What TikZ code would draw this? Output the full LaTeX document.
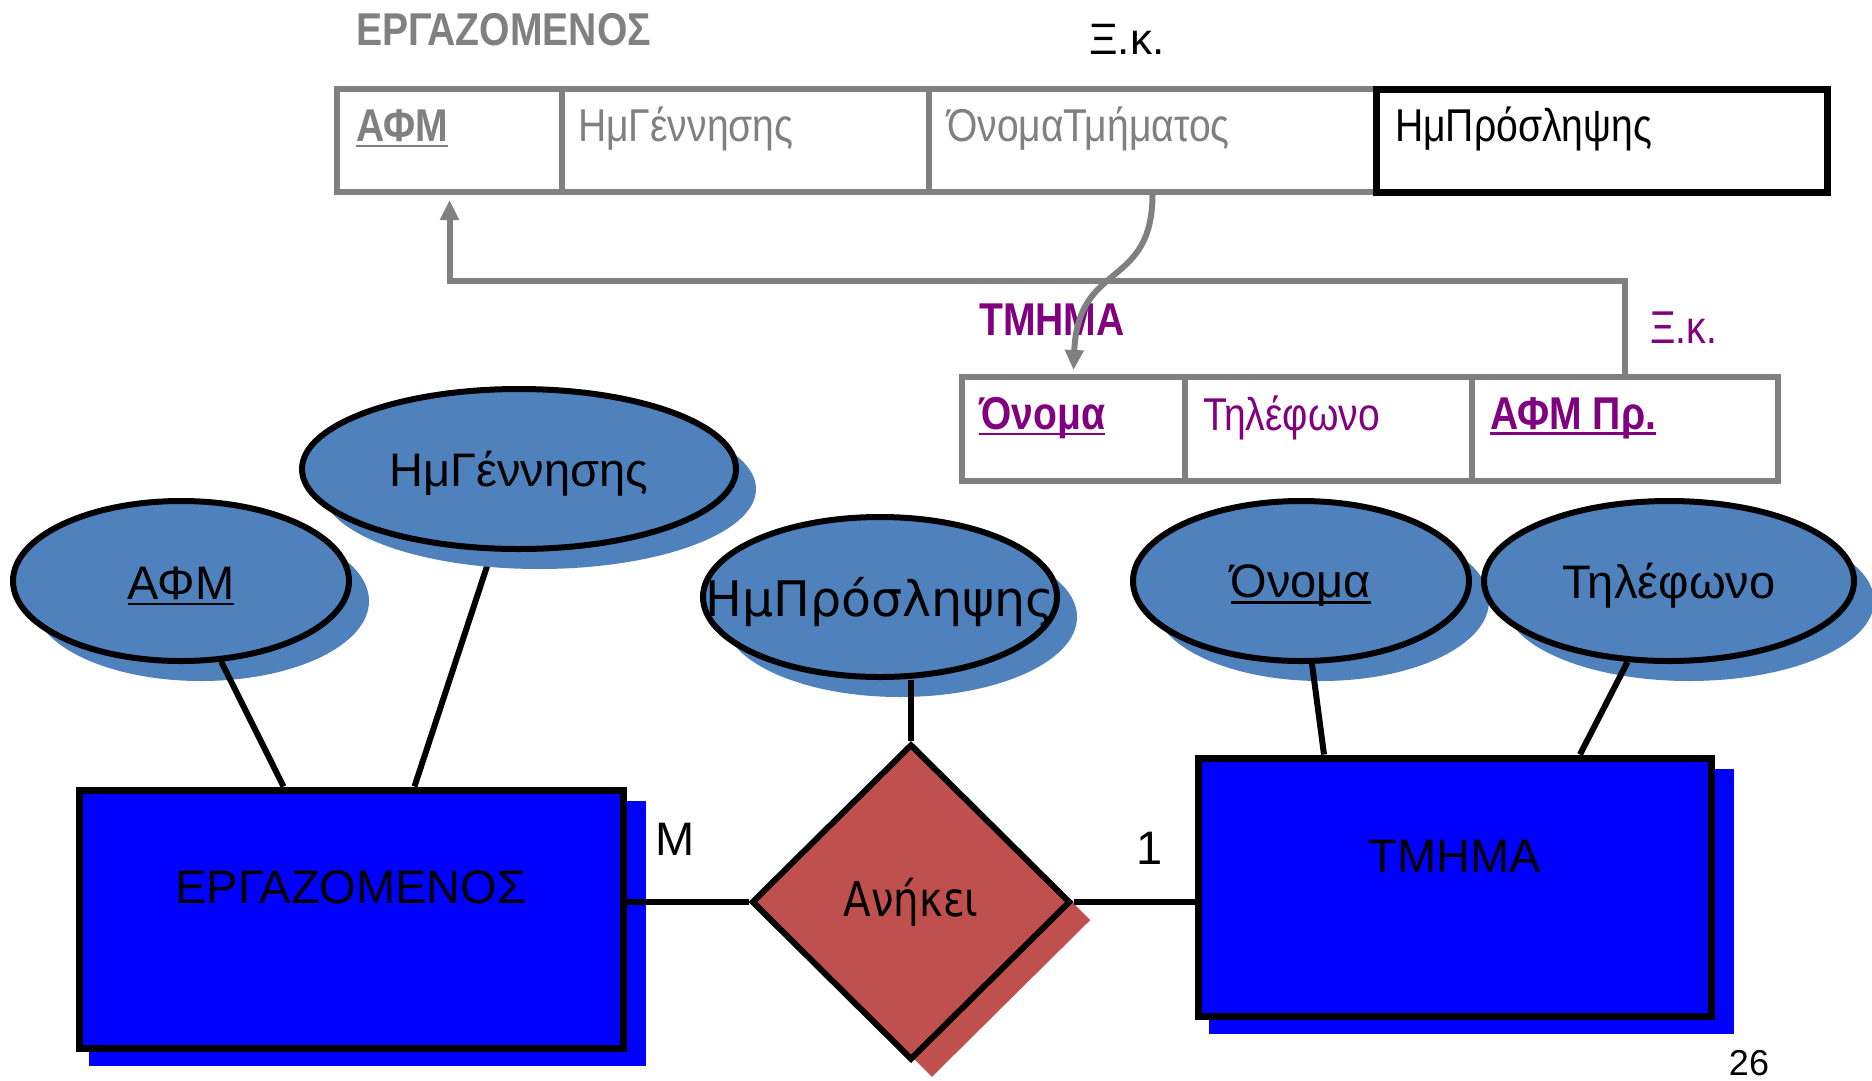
\documentclass[tikz,border=0pt]{standalone}
\usepackage{fontspec}
\setmainfont{Liberation Sans}
\newfontfamily\nar[FakeStretch=0.85]{Liberation Sans}
\newfontfamily\dv{DejaVu Sans}
\newfontfamily\dvn[FakeStretch=0.84]{DejaVu Sans}
\usetikzlibrary{shapes.geometric,shadows,arrows.meta,calc}
\definecolor{ellblue}{HTML}{4F81BD}
\definecolor{relred}{HTML}{C0504D}
\definecolor{fkpurple}{HTML}{800080}
\definecolor{tgray}{HTML}{808080}
\pgfdeclarelayer{paper}
\pgfdeclarelayer{bg}
\pgfsetlayers{paper,bg,main}
\newcommand\fs[1]{\fontsize{#1}{#1}\selectfont}
\newcommand\uln[1]{\setbox0=\hbox{#1}\rlap{\rule[-0.13em]{\wd0}{0.06em}}\box0}
\begin{document}
\begin{tikzpicture}[x=1pt,y=-1pt,
 attr/.style={ellipse, draw=black, line width=6pt, fill=ellblue, inner sep=0pt,
   drop shadow={shadow xshift=20pt, shadow yshift=-20pt, fill=ellblue, opacity=1}},
 ent/.style={rectangle, draw=black, line width=7pt, fill=blue, inner sep=0pt,
   drop shadow={shadow scale=1.025, shadow xshift=16pt, shadow yshift=-14pt, fill=blue, opacity=1}},
 rel/.style={diamond, draw=black, line width=6pt, fill=relred, inner sep=0pt,
   drop shadow={shadow xshift=21pt, shadow yshift=-18pt, fill=relred, opacity=1}},
 cell/.style={rectangle, draw=tgray, line width=6pt, fill=white, inner sep=0pt, anchor=north west},
 celltxt/.style={anchor=west, inner sep=0pt, font=\nar\fs{46}},
 conn/.style={line width=6pt, draw=black},
 fk/.style={draw=tgray, line width=6pt, -{Triangle[length=20pt,width=18pt]}},
 big/.style={font=\fs{47}, inner sep=0pt},
 etxt/.style={big, yshift=-5pt},
]
\begin{pgfonlayer}{paper}
\useasboundingbox[fill=white] (0,0) rectangle (1872,1080);
\end{pgfonlayer}

% ---- relational schema: EMPLOYEE
\node[font=\nar\bfseries\fs{46}, text=tgray, anchor=west, inner sep=0pt] (t0) at (356,30) {ΕΡΓΑΖΟΜΕΝΟΣ};
\node[font=\fs{44}, anchor=west, inner sep=0pt] (tfk) at (1089,39) {Ξ.κ.};
\node[cell, minimum width=225pt, minimum height=103pt,
  label={[celltxt, xshift=22pt, yshift=12pt, text=tgray, font=\nar\bfseries\fs{46}]west:\uln{ΑΦΜ}}] (t1) at (334,86) {};
\node[cell, minimum width=367pt, minimum height=103pt,
  label={[celltxt, xshift=19pt, yshift=12pt, text=tgray]west:ΗμΓέννησης}] (t2) at (559,86) {};
\node[cell, minimum width=447pt, minimum height=103pt,
  label={[celltxt, xshift=21pt, yshift=12pt, text=tgray]west:ΌνομαΤμήματος}] (t3) at (926,86) {};
\node[cell, draw=black, line width=7pt, minimum width=451pt, minimum height=103pt,
  label={[celltxt, xshift=22pt, yshift=12pt, text=black]west:ΗμΠρόσληψης}] (t4) at (1373,86) {};

% ---- relational schema: DEPARTMENT
\node[font=\nar\bfseries\fs{46}, text=fkpurple, anchor=west, inner sep=0pt] (b0) at (979,320) {ΤΜΗΜΑ};
\node[font=\nar\fs{46}, text=fkpurple, anchor=west, inner sep=0pt] (bfk) at (1650,328) {Ξ.κ.};
\node[cell, minimum width=223pt, minimum height=104pt,
  label={[celltxt, xshift=20pt, yshift=11pt, text=fkpurple, font=\nar\bfseries\fs{46}]west:\uln{Όνομα}}] (b1) at (959,374) {};
\node[cell, minimum width=287pt, minimum height=104pt,
  label={[celltxt, xshift=21pt, yshift=11pt, text=fkpurple]west:Τηλέφωνο}] (b2) at (1182,374) {};
\node[cell, minimum width=306pt, minimum height=104pt,
  label={[celltxt, xshift=21pt, yshift=11pt, text=fkpurple, font=\nar\bfseries\fs{46}]west:\uln{ΑΦΜ Πρ.}}] (b3) at (1469,374) {};

% foreign key arrows
\coordinate (fky) at (0,281);
\draw[fk] (b3.north) -- (b3.north |- fky) -| ([yshift=-5pt]t1.south);
\draw[fk] (t3.south) .. controls (1152,290) and (1078,260) .. ([yshift=4pt]b1.north);

% ---- ER diagram
\node[attr, minimum width=336pt, minimum height=160pt,
  label={[etxt]center:\uln{ΑΦΜ}}] (eafm) at (181,581) {};
\node[attr, minimum width=434pt, minimum height=160pt,
  label={[etxt]center:ΗμΓέννησης}] (egen) at (519,469) {};
\node[attr, minimum width=354pt, minimum height=160pt,
  label={[etxt, font=\dv\fs{49}]center:ΗμΠρόσληψης}] (ehp) at (880,597) {};
\node[attr, minimum width=336pt, minimum height=160pt,
  label={[etxt]center:\uln{Όνομα}}] (eon) at (1301,581) {};
\node[attr, minimum width=370pt, minimum height=160pt,
  label={[etxt]center:Τηλέφωνο}] (etel) at (1669,581) {};

\node[ent, minimum width=544pt, minimum height=258pt,
  label={[big, yshift=32pt]center:ΕΡΓΑΖΟΜΕΝΟΣ}] (erg) at (351,919) {};
\node[ent, minimum width=513pt, minimum height=258pt,
  label={[big, yshift=31pt]center:ΤΜΗΜΑ}] (tmh) at (1455,887) {};
\node[rel, minimum width=319pt, minimum height=316pt,
  label={[big, font=\dvn\fs{48}]center:Ανήκει}] (rel) at (911,902) {};

\node[big] (cm) at (675,839) {Μ};
\node[big] (c1) at (1150,848) {1};
\node[font=\fs{36}, inner sep=0pt] (pg) at (1749,1063) {26};

% connectors
\begin{pgfonlayer}{bg}
\draw[conn] (egen.center) -- ($(erg.north west)+(339,0)$);
\end{pgfonlayer}
\draw[conn] (eafm) -- ($(erg.north west)+(208,0)$);
\draw[conn] (eon) -- ($(tmh.north west)+(129,0)$);
\draw[conn] (etel) -- ($(tmh.north west)+(385,0)$);
\draw[conn] (rel.north) -- (rel.north |- ehp.south);
\draw[conn] (rel.west) -- (rel.west -| erg.east);
\draw[conn] (rel.east) -- (rel.east -| tmh.west);
\end{tikzpicture}
\end{document}
